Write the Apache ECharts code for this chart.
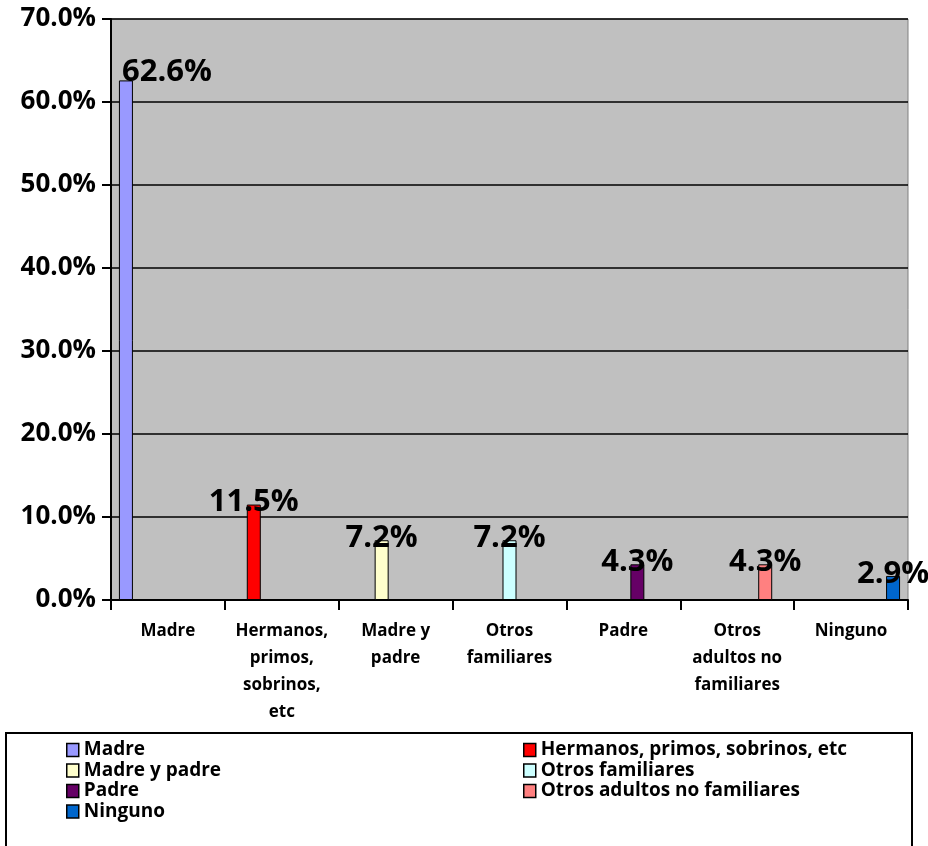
<!DOCTYPE html>
<html>
<head>
<meta charset="utf-8">
<script src="https://cdn.jsdelivr.net/npm/echarts@6/dist/echarts.min.js"></script>
<style>html,body{margin:0;padding:0;background:#fff;}#c{width:928px;height:846px;}</style>
</head>
<body>
<div id="c"></div>
<script>
const categories = ['Madre', 'Hermanos,\nprimos,\nsobrinos,\netc', 'Madre y\npadre', 'Otros\nfamiliares', 'Padre', 'Otros\nadultos no\nfamiliares', 'Ninguno'];
const seriesNames = ['Madre', 'Hermanos, primos, sobrinos, etc', 'Madre y padre', 'Otros familiares', 'Padre', 'Otros adultos no familiares', 'Ninguno'];
const values = [62.6, 11.5, 7.2, 7.2, 4.3, 4.3, 2.9];
const colors = ['#9999ff', '#ff0000', '#ffffcc', '#ccffff', '#660066', '#ff8080', '#0066cc'];
const yTicks = [0, 10, 20, 30, 40, 50, 60, 70];

const FONT = 'Open Sans';
const chart = echarts.init(document.getElementById('c'), null, {renderer: 'canvas'});

const series = seriesNames.map((name, i) => ({
  name: name,
  type: 'bar',
  barGap: '0%',
  barCategoryGap: '18%',
  barWidth: 14,
  data: categories.map((c, j) => j === i ? values[i] : '-'),
  itemStyle: {color: colors[i], borderColor: '#000', borderWidth: 1},
  label: {
    show: true,
    position: ['50%', 0],
    align: 'center',
    verticalAlign: 'middle',
    offset: i === 0 ? [41, -8] : [0, -2],
    formatter: p => p.value.toFixed(1) + '%',
    fontFamily: FONT, fontWeight: 'bold', fontSize: 31, color: '#000'
  }
}));

chart.setOption({
  animation: false,
  backgroundColor: '#fff',
  grid: {left: 111, right: 20, top: 19, bottom: 246, show: true, backgroundColor: '#c0c0c0', borderColor: '#808080', borderWidth: 1},
  xAxis: {
    type: 'category',
    data: categories,
    axisLine: {lineStyle: {color: '#000', width: 2}},
    axisTick: {show: true, length: 10, lineStyle: {color: '#000', width: 2}},
    axisLabel: {fontFamily: FONT, fontWeight: 'bold', fontSize: 17, color: '#000', lineHeight: 27, margin: 18, interval: 0}
  },
  yAxis: {
    type: 'value',
    min: yTicks[0], max: yTicks[yTicks.length - 1], interval: 10,
    axisLine: {show: true, lineStyle: {color: '#000', width: 2}},
    axisTick: {show: true, inside: false, length: 9, lineStyle: {color: '#000', width: 2}},
    splitLine: {lineStyle: {color: '#000', width: 1.5}},
    axisLabel: {fontFamily: FONT, fontWeight: 'bold', fontSize: 26, color: '#000', margin: 15,
      formatter: v => v.toFixed(1) + '%'}
  },
  legend: [
    {
      data: [seriesNames[0], seriesNames[2], seriesNames[4], seriesNames[6]],
      orient: 'vertical', left: 66, top: 740, itemGap: 0.5, padding: 0,
      icon: 'rect', itemWidth: 12, itemHeight: 13,
      itemStyle: {borderColor: '#000', borderWidth: 1.5},
      textStyle: {fontFamily: FONT, fontWeight: 'bold', fontSize: 19, lineHeight: 20, color: '#000'}
    },
    {
      data: [seriesNames[1], seriesNames[3], seriesNames[5]],
      orient: 'vertical', left: 523, top: 740, itemGap: 0.5, padding: 0,
      icon: 'rect', itemWidth: 12, itemHeight: 13,
      itemStyle: {borderColor: '#000', borderWidth: 1.5},
      textStyle: {fontFamily: FONT, fontWeight: 'bold', fontSize: 19, lineHeight: 20, color: '#000'}
    }
  ],
  graphic: [{
    type: 'rect', left: 5, top: 732, z: -1,
    shape: {width: 906, height: 120},
    style: {fill: '#fff', stroke: '#000', lineWidth: 2}
  }],
  series: series
});
</script>
</body>
</html>
